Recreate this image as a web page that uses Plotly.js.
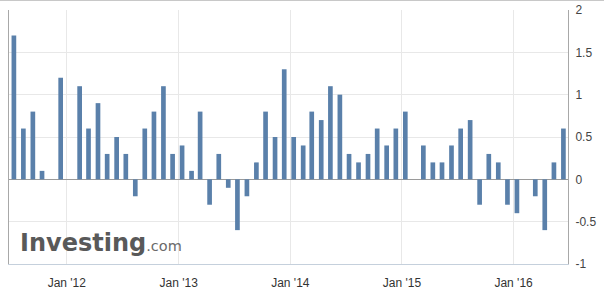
<!DOCTYPE html>
<html>
<head>
<meta charset="utf-8">
<script src="https://cdn.plot.ly/plotly-3.0.1.min.js"></script>
<style>
html,body{margin:0;padding:0;background:#fff;}
#chart{width:604px;height:304px;}
#topline{position:absolute;left:0;top:0;width:604px;height:1px;background:#c8c8c8;}
</style>
</head>
<body>
<div id="chart"></div>
<div id="topline"></div>
<script>
const months = [
  "2011-07","2011-08","2011-09","2011-10","2011-11","2011-12",
  "2012-01","2012-02","2012-03","2012-04","2012-05","2012-06","2012-07","2012-08","2012-09","2012-10","2012-11","2012-12",
  "2013-01","2013-02","2013-03","2013-04","2013-05","2013-06","2013-07","2013-08","2013-09","2013-10","2013-11","2013-12",
  "2014-01","2014-02","2014-03","2014-04","2014-05","2014-06","2014-07","2014-08","2014-09","2014-10","2014-11","2014-12",
  "2015-01","2015-02","2015-03","2015-04","2015-05","2015-06","2015-07","2015-08","2015-09","2015-10","2015-11","2015-12",
  "2016-01","2016-02","2016-03","2016-04","2016-05","2016-06"
];
const values = [
  1.7, 0.6, 0.8, 0.1, 0, 1.2,
  0, 1.1, 0.6, 0.9, 0.3, 0.5, 0.3, -0.2, 0.6, 0.8, 1.1, 0.3,
  0.4, 0.1, 0.8, -0.3, 0.3, -0.1, -0.6, -0.2, 0.2, 0.8, 0.5, 1.3,
  0.5, 0.4, 0.8, 0.7, 1.1, 1.0, 0.3, 0.2, 0.3, 0.6, 0.4, 0.6,
  0.8, 0, 0.4, 0.2, 0.2, 0.4, 0.6, 0.7, -0.3, 0.3, 0.2, -0.3,
  -0.4, 0, -0.2, -0.6, 0.2, 0.6
];
const xTickVals = ["2012-01-01","2013-01-01","2014-01-01","2015-01-01","2016-01-01"];
const xTickText = ["Jan '12","Jan '13","Jan '14","Jan '15","Jan '16"];
const yTickVals = [-1, -0.5, 0, 0.5, 1, 1.5, 2];
const yTickText = ["-1", "-0.5", "0", "0.5", "1", "1.5", "2"];

const DAY = 86400000;
const trace = {
  type: "bar",
  x: months.map(m => m + "-12"),
  y: values,
  width: 15.3 * DAY,
  marker: {color: "#5a80aa", line: {width: 0}},
  hoverinfo: "x+y"
};

const layout = {
  width: 604, height: 304,
  margin: {l: 9, r: 36, t: 10, b: 40, pad: 0},
  paper_bgcolor: "#ffffff",
  plot_bgcolor: "#ffffff",
  showlegend: false,
  font: {family: "Liberation Sans, Arial, sans-serif", size: 12, color: "#333"},
  xaxis: {
    type: "date",
    range: ["2011-06-26", "2016-06-27"],
    tickmode: "array",
    tickvals: xTickVals,
    ticktext: xTickText,
    showgrid: true,
    gridcolor: "#e8e8e8",
    gridwidth: 1,
    showline: true,
    linecolor: "#c5d0dc",
    linewidth: 1,
    ticks: "",
    ticklabelstandoff: 8,
    zeroline: false,
    fixedrange: true
  },
  yaxis: {
    side: "right",
    range: [-1, 2],
    tickmode: "array",
    tickvals: yTickVals,
    ticktext: yTickText,
    showgrid: true,
    gridcolor: "#e8e8e8",
    gridwidth: 1,
    zeroline: true,
    zerolinecolor: "#9a9a9a",
    zerolinewidth: 1,
    showline: true,
    mirror: true,
    linecolor: "#a8a8a8",
    linewidth: 1,
    ticks: "",
    ticklabelstandoff: 4,
    tickfont: {size: 12, color: "#444"},
    fixedrange: true
  },
  annotations: [{
    xref: "paper", yref: "paper",
    x: 9 / 559, y: 5 / 254,
    xanchor: "left", yanchor: "bottom",
    showarrow: false,
    align: "left",
    text: "<span style='font-family:DejaVu Sans;font-weight:bold;font-size:24px;fill:#595959'>Investing</span><span style='font-family:DejaVu Sans;font-size:14.5px;fill:#6a6a6a'>.com</span>",
    font: {family: "DejaVu Sans", size: 24, color: "#595959"}
  }]
};

Plotly.newPlot("chart", [trace], layout, {displayModeBar: false, staticPlot: true});
</script>
</body>
</html>
